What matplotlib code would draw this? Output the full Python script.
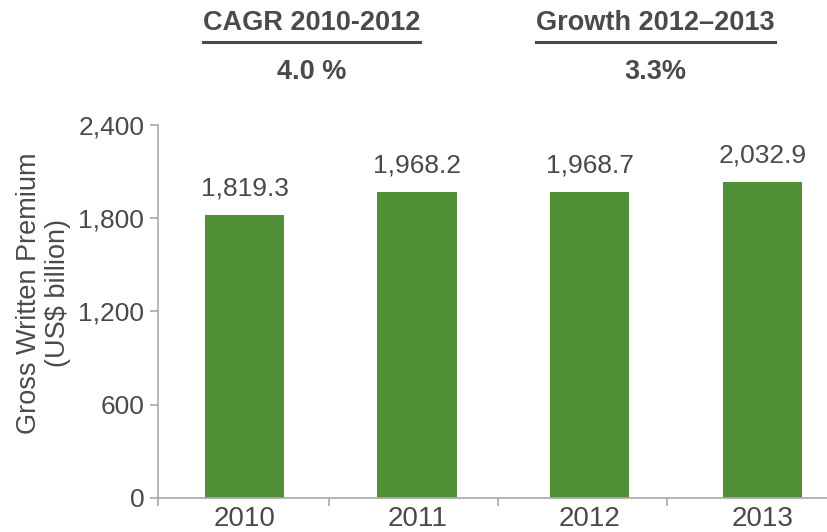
import matplotlib
matplotlib.use("Agg")
import matplotlib.pyplot as plt

# Gross written premium by year
years = ["2010", "2011", "2012", "2013"]
premium = [1819.3, 1968.2, 1968.7, 2032.9]
y_ticks = [0, 600, 1200, 1800, 2400]

headers = [("CAGR 2010-2012", "4.0 %"), ("Growth 2012\u20132013", "3.3%")]

plt.rcParams["font.family"] = ["Liberation Sans", "DejaVu Sans"]
text_color = "#4a4a4a"
axis_color = "#a8a8a8"
bar_color = "#518f37"

fig = plt.figure(figsize=(8.28, 5.32), dpi=100)
ax = fig.add_axes([0.191, 0.064, 0.809, 0.701])

x = range(len(years))
ax.bar(x, premium, width=0.46, color=bar_color)
for i, v in enumerate(premium):
    ax.text(i, v + 95, f"{v:,.1f}", ha="center", va="bottom",
            fontsize=19, color=text_color)

ax.set_ylim(0, 2400)
ax.set_xlim(-0.5, 3.38)
ax.set_yticks(y_ticks)
ax.set_yticklabels([f"{t:,}" for t in y_ticks])
ax.set_xticks(list(x))
ax.set_xticklabels(years)
ax.set_xticks([-0.5, 0.49, 1.47, 2.45], minor=True)
ax.tick_params(axis="x", which="major", length=0, pad=6,
               labelsize=20, labelcolor=text_color)
ax.tick_params(axis="x", which="minor", length=6, color=axis_color, width=1.2)
ax.tick_params(axis="y", length=6, color=axis_color, width=1.2, pad=4,
               labelsize=19, labelcolor=text_color)

for side in ["top", "right"]:
    ax.spines[side].set_visible(False)
for side in ["left", "bottom"]:
    ax.spines[side].set_color(axis_color)
    ax.spines[side].set_linewidth(1.2)

fig.text(0.052, 0.449, "Gross Written Premium\n(US$ billion)", rotation=90,
         ha="center", va="center", fontsize=19.5, color=text_color,
         linespacing=1.15)

# growth summaries above the chart
for (title, value), cx in zip(headers, [0.376, 0.792]):
    t = fig.text(cx, 0.957, title, ha="center", va="center", fontsize=19.5,
                 fontweight="bold", color=text_color)
    fig.text(cx, 0.864, value, ha="center", va="center", fontsize=19.5,
             fontweight="bold", color=text_color)
    fig.canvas.draw()
    bb = t.get_window_extent().transformed(fig.transFigure.inverted())
    fig.add_artist(plt.Line2D([bb.x0, bb.x1], [0.921, 0.921],
                              color=text_color, linewidth=2.2,
                              transform=fig.transFigure))

fig.savefig("out.png", dpi=100)
